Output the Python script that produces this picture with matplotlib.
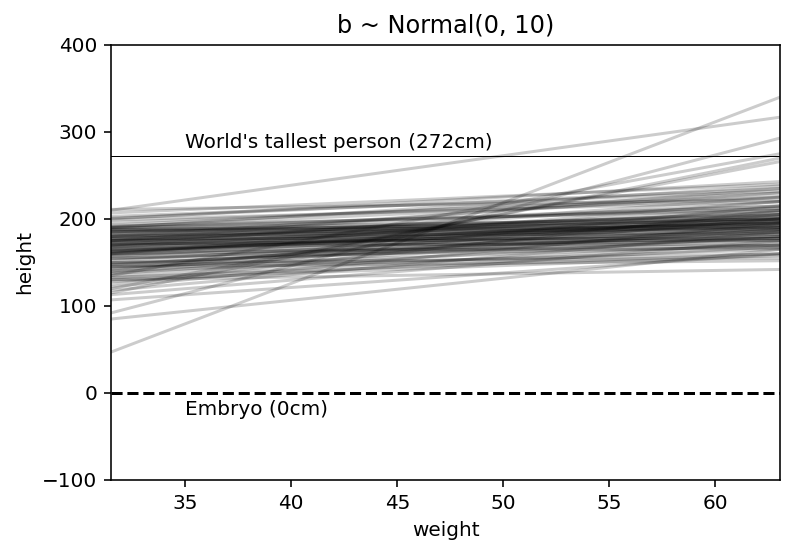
import matplotlib
matplotlib.use("Agg")
import matplotlib.pyplot as plt
import numpy as np

# weight range of the adults
w_min, w_max = 31.5, 63.05

# prior predictive lines: height at w_min and at w_max
h_left = [47, 92, 85, 107, 210, 130, 115, 120, 135, 200,
          207, 211, 190, 175, 180, 170, 160, 185, 190, 165,
          162, 162, 161, 163, 160, 170, 175, 180, 183, 186,
          188, 192, 190, 178, 176, 172, 168, 166, 158, 155,
          150, 148, 145, 142, 140, 138, 135, 132, 130, 125,
          122, 118, 113, 150, 145, 155, 160, 165, 170, 175,
          180, 182, 185, 187, 189, 191, 193, 173, 168, 157,
          152, 147, 143, 140, 137, 133, 128, 178, 181, 184,
          186, 188, 164, 167, 171, 174, 177, 179, 159, 154,
          149, 146, 163, 169, 172, 176, 196, 199, 201, 203]
h_right = [340, 293, 165, 160, 317, 142, 270, 266, 275, 243,
           240, 222, 238, 235, 230, 225, 220, 215, 212, 210,
           200, 198, 196, 202, 205, 205, 208, 200, 205, 198,
           195, 210, 200, 195, 190, 192, 188, 185, 180, 178,
           175, 185, 170, 190, 165, 200, 180, 172, 158, 210,
           195, 185, 175, 155, 152, 168, 170, 178, 182, 186,
           190, 194, 200, 203, 215, 225, 230, 220, 213, 200,
           196, 192, 205, 215, 188, 160, 168, 178, 183, 188,
           192, 190, 166, 175, 180, 196, 201, 207, 187, 183,
           178, 160, 193, 197, 170, 176, 226, 220, 235, 232]

fig = plt.figure(figsize=(794 / 144, 554 / 144), dpi=144)
ax = fig.add_axes([0.1398, 0.1336, 0.8426, 0.7852])

for a, b in zip(h_left, h_right):
    ax.plot([w_min, w_max], [a, b], color="black", alpha=0.2, lw=1.5)

ax.axhline(0, color="black", ls="--", lw=1.5)
ax.text(35, -25, "Embryo (0cm)", fontsize=10)
ax.axhline(272, color="black", lw=0.5)
ax.text(35, 282, "World's tallest person (272cm)", fontsize=10)

ax.set_xlim(w_min, w_max)
ax.set_ylim(-100, 400)
ax.set_xlabel("weight")
ax.set_ylabel("height")
ax.set_title("b ~ Normal(0, 10)")

fig.savefig("out.png", dpi=144)
